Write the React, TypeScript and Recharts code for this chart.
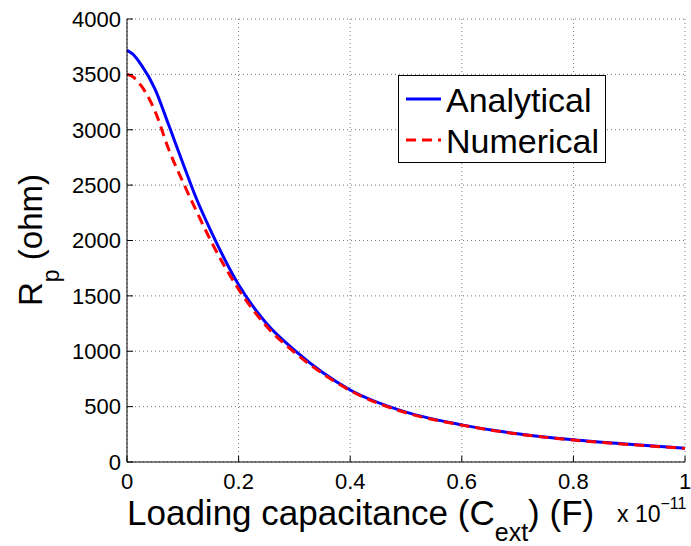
import React from 'react';
import { LineChart, Line, XAxis, YAxis, CartesianGrid, Legend } from 'recharts';

// Loading capacitance in units of 1e-11 F
const capacitance = [0, 0.01, 0.025, 0.05, 0.075, 0.1, 0.125, 0.15, 0.2, 0.25, 0.3, 0.35, 0.4, 0.5, 0.6, 0.7, 0.8, 0.9, 1.0];
const analytical = [3717, 3685, 3590, 3370, 3040, 2700, 2370, 2090, 1600, 1250, 1010, 810, 650, 450, 335, 255, 200, 160, 125];
const numerical = [3500, 3480, 3400, 3170, 2820, 2530, 2260, 2000, 1560, 1225, 990, 800, 645, 445, 333, 253, 198, 158, 123];

const xTicks = [0, 0.2, 0.4, 0.6, 0.8, 1];
const yTicks = [0, 500, 1000, 1500, 2000, 2500, 3000, 3500, 4000];
const xTickLabels = ['0', '0.2', '0.4', '0.6', '0.8', '1'];

const seriesNames = ['Analytical', 'Numerical'];

const data = capacitance.map((c, i) => ({ c, a: analytical[i], n: numerical[i] }));

const FONT = '"Liberation Sans", Arial, Helvetica, sans-serif';

const renderLegend = () => (
  <div style={{ width: 208, height: 88, boxSizing: 'border-box', border: '1.5px solid #000', background: '#fff' }}>
    <svg width={205} height={85} style={{ display: 'block' }}>
      <line x1={7} x2={42} y1={23} y2={23} stroke="#0000ff" strokeWidth={3} />
      <text x={47} y={35.5} fontSize={34} fontFamily={FONT} fill="#000">{seriesNames[0]}</text>
      <line x1={7} x2={42} y1={64} y2={64} stroke="#ff0000" strokeWidth={3} strokeDasharray="10 6" />
      <text x={47} y={76.5} fontSize={34} fontFamily={FONT} fill="#000">{seriesNames[1]}</text>
    </svg>
  </div>
);

const YLabel = () => (
  <text transform="rotate(-90, 42, 240)" x={42} y={240} textAnchor="middle" fontSize={33} fontFamily={FONT} fill="#000">
    <tspan>R</tspan>
    <tspan dy={17} fontSize={23}>p</tspan>
    <tspan dy={-17}> (ohm)</tspan>
  </text>
);

const XLabel = () => (
  <g>
    <text x={127} y={525} textAnchor="start" fontSize={35} fontFamily={FONT} fill="#000">
      <tspan>Loading capacitance (C</tspan>
      <tspan dy={16} fontSize={25}>ext</tspan>
      <tspan dy={-16}>) (F)</tspan>
    </text>
    <text x={617} y={522} textAnchor="start" fontSize={23} fontFamily={FONT} fill="#000">
      <tspan>x 10</tspan>
      <tspan dy={-13} fontSize={16}>−11</tspan>
    </text>
  </g>
);

export default function App() {
  return (
    <div style={{ position: 'absolute', left: 0, top: 0, width: 691, height: 546, background: '#fff' }}>
      <LineChart width={691} height={546} data={data} margin={{ top: 19, right: 6, bottom: 0, left: 0 }}>
        <CartesianGrid stroke="#777" strokeDasharray="1 3" />
        <XAxis
          dataKey="c"
          type="number"
          domain={[0, 1]}
          ticks={xTicks}
          interval={0}
          tickFormatter={(v: number) => xTickLabels[xTicks.indexOf(v)] ?? String(v)}
          height={84}
          tickSize={-6}
          tickMargin={17}
          stroke="#000"
          tick={{ fill: '#000', fontSize: 22, fontFamily: FONT }}
          label={{ content: () => <XLabel /> }}
        />
        <XAxis
          xAxisId="top"
          orientation="top"
          dataKey="c"
          type="number"
          domain={[0, 1]}
          ticks={xTicks}
          interval={0}
          height={0}
          tickSize={-6}
          tickFormatter={() => ''}
          stroke="#000"
        />
        <YAxis
          type="number"
          domain={[0, 4000]}
          ticks={yTicks}
          interval={0}
          width={127}
          tickSize={-6}
          tickMargin={12}
          stroke="#000"
          tick={{ fill: '#000', fontSize: 22, fontFamily: FONT }}
          label={{ content: () => <YLabel /> }}
        />
        <YAxis
          yAxisId="right"
          orientation="right"
          type="number"
          domain={[0, 4000]}
          ticks={yTicks}
          interval={0}
          width={0}
          tickSize={-6}
          tickFormatter={() => ''}
          stroke="#000"
        />
        <Line
          type="monotone"
          dataKey="a"
          name={seriesNames[0]}
          stroke="#0000ff"
          strokeWidth={3}
          dot={false}
          isAnimationActive={false}
        />
        <Line
          type="monotone"
          dataKey="n"
          name={seriesNames[1]}
          stroke="#ff0000"
          strokeWidth={3}
          strokeDasharray="10 6"
          dot={false}
          isAnimationActive={false}
        />
        <Legend
          layout="vertical"
          align="center"
          verticalAlign="middle"
          content={renderLegend}
          wrapperStyle={{ position: 'absolute', left: 398, top: 75, width: 208, height: 88, bottom: 'auto', right: 'auto' }}
        />
      </LineChart>
    </div>
  );
}
